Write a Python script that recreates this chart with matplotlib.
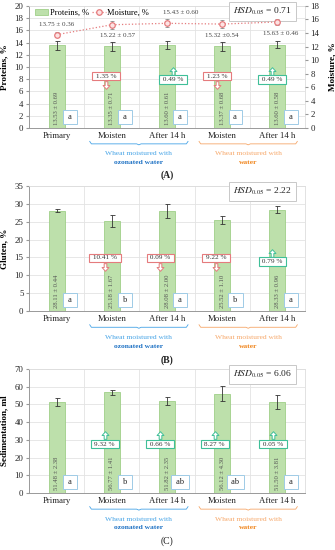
import numpy as np
import matplotlib
matplotlib.use("Agg")
import matplotlib.pyplot as plt
from matplotlib.path import Path
from matplotlib.patches import Patch
from matplotlib.lines import Line2D
from matplotlib.transforms import ScaledTranslation, blended_transform_factory

plt.rcParams['font.family'] = ['Liberation Serif', 'DejaVu Serif']
plt.rcParams['mathtext.fontset'] = 'stix'

categories = ['Primary', 'Moisten', 'After 14 h', 'Moisten', 'After 14 h']

# panel A
protein = [13.53, 13.35, 13.60, 13.37, 13.60]
protein_sd = [0.69, 0.71, 0.61, 0.68, 0.58]
protein_letters = ['a', 'a', 'a', 'a', 'a']
protein_change = ['', '1.35 %', '0.49 %', '1.23 %', '0.49 %']
protein_dir = [0, -1, 1, -1, 1]

moisture = [13.75, 15.22, 15.43, 15.32, 15.63]
moisture_sd = [0.36, 0.57, 0.60, 0.54, 0.46]
moisture_text = ['13.75 ± 0.36', '15.22 ± 0.57', '15.43 ± 0.60', '15.32 ±0.54', '15.63 ± 0.46']

# panel B
gluten = [28.11, 25.18, 28.08, 25.52, 28.33]
gluten_sd = [0.44, 1.67, 2.00, 1.10, 0.96]
gluten_letters = ['a', 'b', 'a', 'b', 'a']
gluten_change = ['', '10.41 %', '0.09 %', '9.22 %', '0.79 %']
gluten_dir = [0, -1, -1, -1, 1]

# panel C
sediment = [51.48, 56.77, 51.82, 56.12, 51.50]
sediment_sd = [2.38, 1.41, 2.35, 4.30, 3.81]
sediment_letters = ['a', 'b', 'ab', 'ab', 'a']
sediment_change = ['', '9.32 %', '0.66 %', '8.27 %', '0.05 %']
sediment_dir = [0, 1, 1, 1, 1]

bar_fill = '#bde0ab'
bar_edge = '#9fcf88'
red = '#e57b7d'
green = '#3fbf98'
blue_light = '#45a3e6'
blue_dark = '#1f72c4'
orange_light = '#f6a769'
orange_dark = '#f0861e'
grid_col = '#e3e3e3'

up_arrow = Path([(-0.35, -1), (0.35, -1), (0.35, 0), (0.9, 0), (0, 1),
                 (-0.9, 0), (-0.35, 0), (-0.35, -1)], closed=True)
down_arrow = Path([(x, -y) for x, y in up_arrow.vertices], closed=True)

fig = plt.figure(figsize=(3.35, 5.5), dpi=100)


def draw_panel(rect, values, sd, letters, changes, dirs, ymax, step, ylabel,
               hsd, tag, tag_bold, shifts):
    ax = fig.add_axes(rect)
    x = np.arange(len(categories))
    trans = blended_transform_factory(ax.transData, ax.transAxes)

    ax.bar(x, values, width=0.29, color=bar_fill, edgecolor=bar_edge,
           linewidth=0.6, zorder=2)
    ax.errorbar(x, values, yerr=sd, fmt='none', ecolor='#333333',
                elinewidth=0.6, capsize=1.8, capthick=0.6, zorder=3)

    ax.set_xlim(-0.5, 4.5)
    ax.set_ylim(0, ymax)
    ax.set_yticks(np.arange(0, ymax + 0.1, step))
    ax.set_xticks(x)
    ax.set_xticklabels(categories)
    ax.set_xticks(np.arange(0.5, 4, 1), minor=True)
    ax.grid(axis='y', color=grid_col, linewidth=0.6)
    ax.grid(axis='x', which='minor', color=grid_col, linewidth=0.6)
    ax.set_axisbelow(True)
    ax.tick_params(axis='x', which='both', length=0, labelsize=6.3, pad=3,
                   labelcolor='#222222')
    ax.tick_params(axis='y', length=2, labelsize=6.3, pad=2, color='#999999',
                   labelcolor='#222222')
    for s in ['left', 'bottom']:
        ax.spines[s].set_color('#999999')
        ax.spines[s].set_linewidth(0.7)
    for s in ['top', 'right']:
        ax.spines[s].set_color('#dddddd')
        ax.spines[s].set_linewidth(0.6)

    ax.set_ylabel(ylabel, fontsize=6.6, fontweight='bold')
    ax.yaxis.set_label_coords(-0.075, 0.5)

    for i in range(len(categories)):
        ax.text(i, 0.025, f'{values[i]:.2f} ± {sd[i]:.2f}', transform=trans,
                rotation=90, ha='center', va='bottom', fontsize=4.8,
                color='#555555', zorder=4)
        ax.text(i + 0.24, 0.09, f' {letters[i]} ', transform=trans,
                ha='center', va='center', fontsize=6, color='#222222',
                zorder=5,
                bbox=dict(boxstyle='square,pad=0.35', fc='white',
                          ec='#9fcbe6', lw=0.7))
        if dirs[i] == 0:
            continue
        col = green if dirs[i] > 0 else red
        yb = 0.395 if dirs[i] > 0 else 0.425
        xb = i + shifts[i]
        ax.text(xb, yb, f' {changes[i]} ', transform=trans, ha='center',
                va='center', fontsize=5.2, color='#333333', zorder=6,
                bbox=dict(boxstyle='square,pad=0.25', fc='white', ec=col,
                          lw=0.8))
        off = ScaledTranslation(0, dirs[i] * 6.5 / 72, fig.dpi_scale_trans)
        ax.plot([xb], [yb], transform=trans + off, linestyle='none',
                marker=up_arrow if dirs[i] > 0 else down_arrow, ms=5.5,
                mfc='white', mec=col, mew=0.7, zorder=7, clip_on=False)

    ax.text(0.846, 0.955, r'$HSD_{0.05}$ = ' + hsd, transform=ax.transAxes,
            ha='center', va='center', fontsize=6.8, color='#222222', zorder=8,
            bbox=dict(boxstyle='square,pad=0.45', fc='white', ec='#c8c8c8',
                      lw=0.7))

    # group brackets under the x labels
    yb = -0.13
    for x0, x1, c in [(0.6, 2.38, blue_light), (2.58, 4.36, orange_light)]:
        mid = (x0 + x1) / 2
        ax.plot([x0, x0 + 0.03, mid - 0.04, mid, mid + 0.04, x1 - 0.03, x1],
                [yb + 0.02, yb, yb, yb - 0.008, yb, yb, yb + 0.02],
                transform=trans, color=c, lw=0.6, clip_on=False)
    ax.text(1.49, -0.21, 'Wheat moistured with', transform=trans,
            ha='center', va='center', fontsize=5.4, color=blue_light)
    ax.text(1.49, -0.28, 'ozonated water', transform=trans, ha='center',
            va='center', fontsize=5.4, color=blue_dark, fontweight='bold')
    ax.text(3.47, -0.21, 'Wheat moistured with', transform=trans,
            ha='center', va='center', fontsize=5.4, color=orange_light)
    ax.text(3.47, -0.28, 'water', transform=trans, ha='center',
            va='center', fontsize=5.4, color=orange_dark, fontweight='bold')
    ax.text(2.0, -0.39, tag, transform=trans, ha='center', va='center',
            fontsize=7, fontweight='bold' if tag_bold else 'normal',
            color='#222222')
    return ax


ax_a = draw_panel([0.0866, 0.7673, 0.824, 0.222], protein, protein_sd,
                  protein_letters, protein_change, protein_dir, 20, 2,
                  'Proteins, %', '0.71', '(A)', True,
                  [0, -0.11, 0.11, -0.09, -0.1])
ax_b = draw_panel([0.0866, 0.4345, 0.824, 0.2273], gluten, gluten_sd,
                  gluten_letters, gluten_change, gluten_dir, 35, 5,
                  'Gluten, %', '2.22', '(B)', True,
                  [0, -0.12, -0.12, -0.11, -0.09])
ax_c = draw_panel([0.0866, 0.1036, 0.824, 0.2255], sediment, sediment_sd,
                  sediment_letters, sediment_change, sediment_dir, 70, 10,
                  'Sedimentation, ml', '6.06', '(C)', False,
                  [0, -0.13, -0.12, -0.14, -0.08])

# moisture on the secondary axis of panel A
ax2 = ax_a.twinx()
x = np.arange(len(categories))
ax2.errorbar(x, moisture, yerr=moisture_sd, fmt='none', ecolor='#777777',
             elinewidth=0.5, capsize=1.5, capthick=0.5, zorder=3)
ax2.plot(x, moisture, linestyle=':', color=red, lw=0.9, marker='o', ms=4,
         mfc='#fde3e3', mec=red, mew=0.9, zorder=4)
ax2.set_ylim(0, 18)
ax2.set_yticks(np.arange(0, 19, 2))
ax2.tick_params(axis='y', length=2, labelsize=6.3, pad=2, color='#999999',
                labelcolor='#222222')
for s in ax2.spines.values():
    s.set_visible(False)
ax2.set_ylabel('Moisture, %', fontsize=6.6, fontweight='bold', rotation=90)
ax2.yaxis.set_label_coords(1.083, 0.5)

label_off = [(0, 7), (4, -8), (10, 7.5), (0, -8), (2, -8)]
for i in range(len(categories)):
    ax2.annotate(moisture_text[i], (i, moisture[i]), xytext=label_off[i],
                 textcoords='offset points', ha='center', va='center',
                 fontsize=5, color='#444444')

handles = [Patch(fc=bar_fill, ec=bar_edge, lw=0.6),
           Line2D([], [], linestyle=':', color=red, lw=0.9, marker='o', ms=4,
                  mfc='#fde3e3', mec=red, mew=0.9)]
ax2.legend(handles, ['Proteins, %', 'Moisture, %'], loc='upper left',
           bbox_to_anchor=(0.0, 1.025), ncol=2, frameon=False, fontsize=6,
           handlelength=1.6, handleheight=0.7, handletextpad=0.2,
           columnspacing=0.4, borderpad=0.2)

fig.savefig('out.png', dpi=100)
